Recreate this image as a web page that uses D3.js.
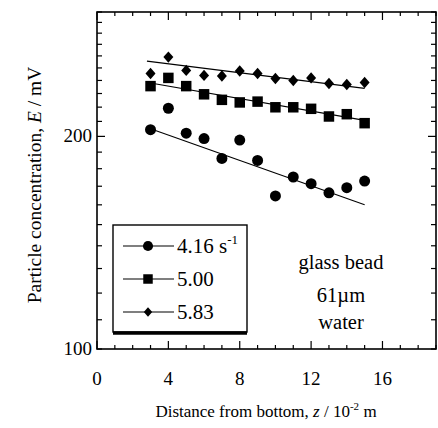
<!DOCTYPE html>
<html><head><meta charset="utf-8">
<script src="https://cdn.jsdelivr.net/npm/d3@7"></script>
<style>body{margin:0;background:#fff}svg{display:block}text{font-family:"Liberation Serif","Times New Roman",serif;fill:#000}</style>
</head><body><svg id="c" width="438" height="428"></svg>
<script>
const xPositions = [3,4,5,6,7,8,9,10,11,12,13,14,15];
const series416 = [204.4,219.2,202.1,198.6,186.1,197.6,184.9,164.7,175.2,171.4,166.4,169.2,172.9];
const series500 = [235.6,242,235.6,229.4,225.3,223.4,224,219.9,219.9,218.8,213.4,215,208.8];
const series583 = [245.5,259,248,244,243.5,247.5,245.5,241.5,240,242,237.6,236.8,238.4];
const fit416 = [[3,205],[15,160]];
const fit500 = [[3,238],[15,210.7]];
const fit583 = [[2.8,255.6],[15,233.9]];
const legendLabels = ["4.16","5.00","5.83"];
const xTickLabels = [0,4,8,12,16];
const yTickLabels = [100,200];
const annotations = ["glass bead","61\u00b5m","water"];

const svg = d3.select("#c");
const L=97,R=436,T=12,B=349;
const x = d3.scaleLinear().domain([0,19]).range([L,R]);
const y = d3.scaleLog().domain([100,300]).range([B,T]);

// ticks
const xMinor = d3.range(0,20,1);
const yMinor = d3.range(100,301,10);
const tk = svg.append("g").attr("stroke","#000").attr("stroke-width",1.2);
xMinor.forEach(v=>{
  const len = (v%4===0)?8:4;
  tk.append("line").attr("x1",x(v)).attr("x2",x(v)).attr("y1",B).attr("y2",B-len);
  tk.append("line").attr("x1",x(v)).attr("x2",x(v)).attr("y1",T).attr("y2",T+len);
});
yMinor.forEach(v=>{
  const len = (v===200)?8:5;
  tk.append("line").attr("x1",L).attr("x2",L+len).attr("y1",y(v)).attr("y2",y(v));
  tk.append("line").attr("x1",R).attr("x2",R-len).attr("y1",y(v)).attr("y2",y(v));
});
svg.append("rect").attr("x",L).attr("y",T).attr("width",R-L).attr("height",B-T)
  .attr("fill","none").attr("stroke","#000").attr("stroke-width",1.6);

// tick labels
svg.selectAll(".xl").data(xTickLabels).join("text").attr("x",d=>x(d)).attr("y",385)
  .attr("text-anchor","middle").attr("font-size",19).text(d=>d);
svg.selectAll(".yl").data(yTickLabels).join("text").attr("x",92).attr("y",d=>y(d)+6)
  .attr("text-anchor","end").attr("font-size",19).text(d=>d);

// axis titles
const xt = svg.append("text").attr("x",266).attr("y",417).attr("text-anchor","middle").attr("font-size",17);
xt.append("tspan").text("Distance from bottom, ");
xt.append("tspan").attr("font-style","italic").text("z");
xt.append("tspan").text(" / 10");
xt.append("tspan").attr("font-size",11).attr("dy",-7).text("-2");
xt.append("tspan").attr("dy",7).text(" m");
const yt = svg.append("text").attr("transform","translate(41,185) rotate(-90)").attr("text-anchor","middle").attr("font-size",19.5);
yt.append("tspan").text("Particle concentration, ");
yt.append("tspan").attr("font-style","italic").text("E");
yt.append("tspan").text(" / mV");

// fit lines
const line = d3.line().x(d=>x(d[0])).y(d=>y(d[1]));
[fit416,fit500,fit583].forEach(f=>svg.append("path").attr("d",line(f)).attr("fill","none").attr("stroke","#000").attr("stroke-width",1.1));

// markers
const sym = [d3.symbol().type(d3.symbolCircle).size(95), d3.symbol().type(d3.symbolSquare).size(110), null];
function diamond(g){ return g.append("path").attr("d","M0,-5.7L5,0L0,5.7L-5,0Z").attr("fill","#000"); }
const all = [series416,series500,series583];
all.forEach((s,i)=>{
  s.forEach((v,j)=>{
    const g = svg.append("g").attr("transform",`translate(${x(xPositions[j])},${y(v)})`);
    if(i<2) g.append("path").attr("d",sym[i]()).attr("fill","#000"); else diamond(g);
  });
});

// legend
const lg = svg.append("g");
lg.append("rect").attr("x",113).attr("y",225).attr("width",134).attr("height",107).attr("fill","#fff").attr("stroke","#000").attr("stroke-width",1.4);
lg.append("line").attr("x1",113).attr("x2",247).attr("y1",333).attr("y2",333).attr("stroke","#000").attr("stroke-width",3.5);
const rows=[246,279,312];
legendLabels.forEach((lab,i)=>{
  lg.append("line").attr("x1",123).attr("x2",174).attr("y1",rows[i]).attr("y2",rows[i]).attr("stroke","#000").attr("stroke-width",1.1);
  const g = lg.append("g").attr("transform",`translate(148,${rows[i]})`);
  if(i<2) g.append("path").attr("d",d3.symbol().type(i===0?d3.symbolCircle:d3.symbolSquare).size(i===0?80:90)()).attr("fill","#000");
  else g.append("path").attr("d","M0,-4.8L4.2,0L0,4.8L-4.2,0Z").attr("fill","#000");
  const t = lg.append("text").attr("x",177).attr("y",rows[i]+7).attr("font-size",21).text(lab);
  if(i===0){ t.append("tspan").text(" s"); t.append("tspan").attr("font-size",13).attr("dy",-9).text("-1"); }
});

// annotations
const ay=[269,302,329];
annotations.forEach((a,i)=>svg.append("text").attr("x",341).attr("y",ay[i]).attr("text-anchor","middle").attr("font-size",20.5).text(a));
</script></body></html>
